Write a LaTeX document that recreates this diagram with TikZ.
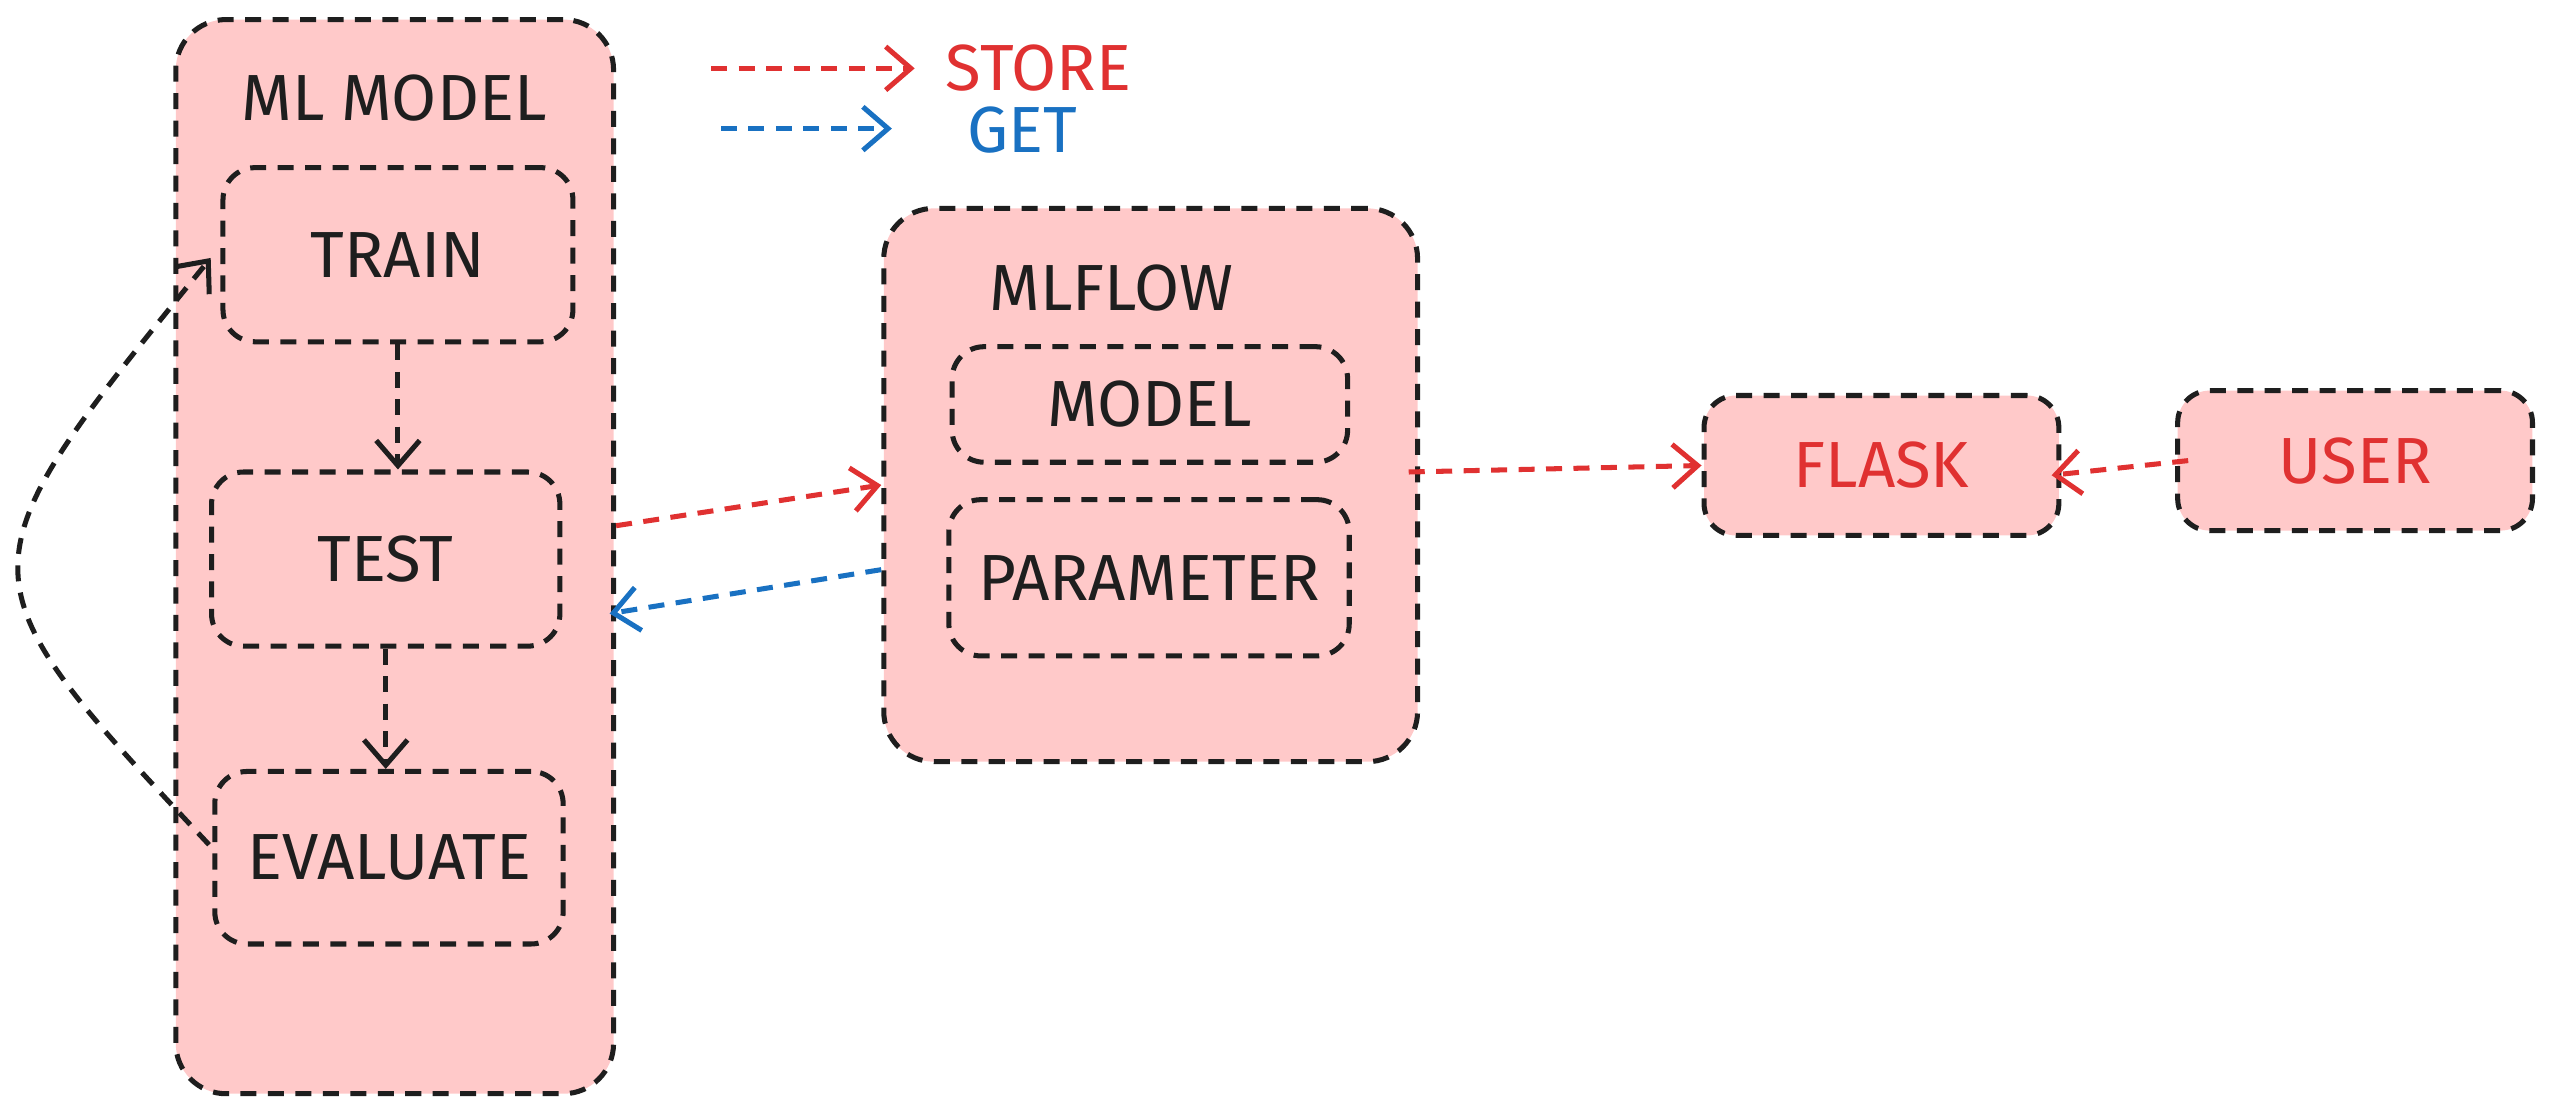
\documentclass[tikz,border=0pt]{standalone}
\usepackage{fontspec}
\setmainfont{Fira Sans}
\usetikzlibrary{arrows.meta,calc}
\definecolor{boxfill}{HTML}{FFC9C9}
\definecolor{ink}{HTML}{1E1E1E}
\definecolor{redink}{HTML}{E03131}
\definecolor{blueink}{HTML}{1971C2}
\newdimen\pxu \pxu=0.025cm
\begin{document}
\begin{tikzpicture}[x=0.025cm,y=-0.025cm,
  box/.style={draw=ink, fill=boxfill, line width=2.2pt, dash pattern=on 7pt off 5pt,
              rounded corners=14pt, inner sep=0pt},
  bigbox/.style={box, rounded corners=22pt},
  lbl/.style={font=\fontsize{28.5}{32}\selectfont, text=ink},
  conn/.style={draw=ink, line width=2.2pt, dash pattern=on 7pt off 5pt,
               -{Straight Barb[length=11pt,width=19pt]}},
]
\useasboundingbox (0,0) rectangle (1568,686);

% ML MODEL container
\node[bigbox, minimum width=269\pxu, minimum height=660\pxu] (ml) at (242.5,342) {};
\node[lbl] (mltitle) at (242,60) {ML MODEL};
\node[box, lbl, minimum width=215\pxu, minimum height=107\pxu] (train) at (244.5,156.5) {TRAIN};
\node[box, lbl, minimum width=214\pxu, minimum height=107\pxu] (test) at (237,343.5) {TEST};
\node[box, lbl, minimum width=214\pxu, minimum height=106\pxu] (eval) at (239,527) {EVALUATE};

% MLFLOW container
\node[bigbox, minimum width=328\pxu, minimum height=340\pxu] (mlflow) at (707,298) {};
\node[lbl] (mlflowtitle) at (683,177) {MLFLOW};
\node[box, lbl, minimum width=243\pxu, minimum height=71\pxu] (model) at (706.5,248.5) {MODEL};
\node[box, lbl, minimum width=246\pxu, minimum height=96\pxu] (param) at (706,355) {PARAMETER};

% FLASK and USER
\node[box, lbl, text=redink, minimum width=218\pxu, minimum height=86\pxu] (flask) at (1156,286) {FLASK};
\node[box, lbl, text=redink, minimum width=218\pxu, minimum height=86\pxu] (user) at (1447,283) {USER};

% legend
\coordinate (st1) at (437,42);
\coordinate (st2) at (562,42);
\node[lbl, text=redink] (store) at (638,42) {STORE};
\coordinate (gt1) at (443,79);
\coordinate (gt2) at (548,79);
\node[lbl, text=blueink] (get) at (628,80) {GET};
\draw[conn, draw=redink] (st1) -- (st2);
\draw[conn, draw=blueink] (gt1) -- (gt2);

% connectors inside ML MODEL
\draw[conn] (train.south) -- (train.south |- test.north);
\draw[conn] (test.south) -- (test.south |- eval.north);
\draw[conn] ($(eval.west)+(-2,-8)$) .. controls (-28,352) .. ($(train.west)+(-6,2)$);

% between containers
\draw[conn, draw=redink] ($(ml.east)+(0,-19)$) -- (mlflow.west);
\draw[conn, draw=blueink] ($(mlflow.west)+(0,52)$) -- ($(ml.east)+(-4,35)$);
\draw[conn, draw=redink] ($(mlflow.east)+(-7,-8)$) -- (flask.west);
\draw[conn, draw=redink] ($(user.west)+(8,0)$) -- ($(flask.east)+(-6,6)$);
\end{tikzpicture}
\end{document}
